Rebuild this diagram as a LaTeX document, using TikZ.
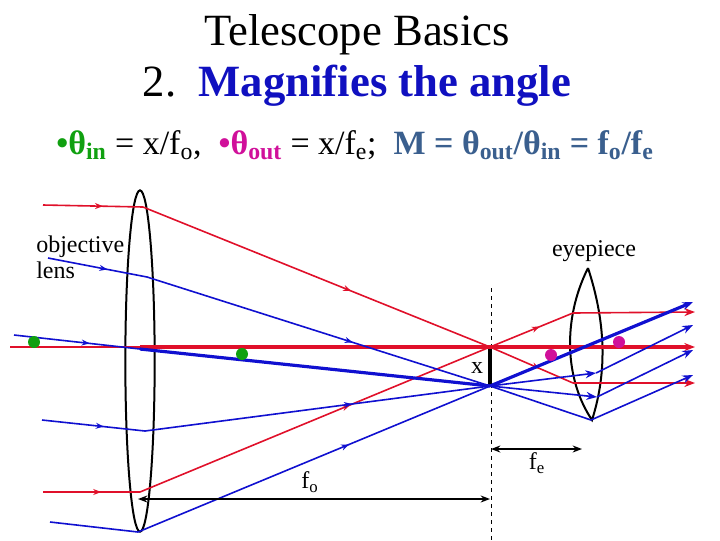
\documentclass[tikz,border=0pt]{standalone}
\usepackage{fontspec}
\setmainfont{Liberation Serif}
\usetikzlibrary{arrows.meta,decorations.markings,shapes.geometric}
\definecolor{rr}{HTML}{E0102A}
\definecolor{bb}{HTML}{1010D0}
\definecolor{gg}{HTML}{10A010}
\definecolor{mm}{HTML}{D0109A}
\definecolor{sb}{HTML}{3A5F8E}
\definecolor{tb}{HTML}{1010C0}
\begin{document}
\begin{tikzpicture}[x=0.75pt,y=-0.75pt,
  ray/.style={line width=1.2pt},
  thick ray/.style={line width=2.4pt},
  mid/.style={postaction={decorate},decoration={markings,mark=at position 0.6 with {\arrow{Stealth[length=6pt]}}}},
  endarr/.style={-{Stealth[length=8pt]}},
  lab/.style={font=\fontsize{18}{19}\selectfont, inner sep=0pt},
  dot/.style={circle,inner sep=0pt,minimum size=9pt}]
\useasboundingbox (0,0) rectangle (720,540);
% texts
\node[inner sep=0pt] (t1) at (357,35) {\fontsize{33.5}{34}\selectfont Telescope Basics};
\node[inner sep=0pt] (t2) at (357,86) {\fontsize{33.5}{34}\selectfont 2.\ \ \textcolor{tb}{\textbf{Magnifies the angle}}};
\node[inner sep=0pt] (t3) at (355,145) {\fontsize{25.5}{26}\selectfont
  \textcolor{gg}{\textbf{•θ\textsubscript{in}}} = x/f\textsubscript{o},\ \ \textcolor{mm}{\textbf{•θ\textsubscript{out}}} = x/f\textsubscript{e};\ \ \textcolor{sb}{\textbf{M = θ\textsubscript{out}/θ\textsubscript{in} = f\textsubscript{o}/f\textsubscript{e}}}};
\node[lab,align=left,anchor=north west] (ol) at (36,236) {objective\\lens};
\node[lab] (ep) at (594,251) {eyepiece};
% lenses
\node[draw,ellipse,line width=1.5pt,minimum width=22pt,minimum height=256pt,inner sep=0pt] (obj) at (140,361) {};
\coordinate (et) at (588,268); \coordinate (eb) at (592,420);
\draw[line width=1.5pt] (et) .. controls (562,320) and (565,380) .. (eb) .. controls (608,370) and (605,320) .. (et);
% focal plane
\coordinate (fr) at (490,347); \coordinate (fb) at (490,386);
\draw[dashed] (491,288) -- (491,540);
\draw[line width=2.5pt] (fr) -- (fb);
\node[lab] (xl) at (477,368) {x};
% red rays
\coordinate (r1a) at (43,205); \coordinate (r1b) at (143,207);
\coordinate (r3a) at (43,492); \coordinate (r3b) at (140,492);
\coordinate (e1) at (573,313); \coordinate (e3) at (573,383);
\draw[rr,ray,mid] (r1a) -- (r1b);
\draw[rr,ray,mid] (r1b) -- (fr);
\draw[rr,ray,mid] (fr) -- (e3);
\draw[rr,ray,endarr] (e3) -- (695,383);
\draw[rr,ray,mid] (r3a) -- (r3b);
\draw[rr,ray,mid] (r3b) -- (fr);
\draw[rr,ray,mid] (fr) -- (e1);
\draw[rr,ray,endarr] (e1) -- (695,312);
\draw[rr,ray] (10,347) -- (140,347);
\draw[rr,thick ray,endarr] (140,347) -- (695,347);
% blue rays
\coordinate (b1a) at (48,258); \coordinate (b1b) at (147,277);
\coordinate (b2a) at (14,335); \coordinate (b2b) at (140,349);
\coordinate (b3a) at (42,420); \coordinate (b3b) at (145,431);
\coordinate (b4a) at (50,522); \coordinate (b4b) at (138,532);
\coordinate (g1) at (596,373); \coordinate (g2) at (597,397); \coordinate (g3) at (591,420);
\draw[bb,ray,mid] (b1a) -- (b1b);
\draw[bb,ray,mid] (b1b) -- (fb);
\draw[bb,ray,mid] (b2a) -- (b2b);
\draw[bb,thick ray] (b2b) -- (fb);
\draw[bb,ray,mid] (b3a) -- (b3b);
\draw[bb,ray,mid] (b3b) -- (fb);
\draw[bb,ray] (b4a) -- (b4b);
\draw[bb,ray,mid] (b4b) -- (fb);
\draw[bb,thick ray,endarr] (fb) -- (693,302);
\draw[bb,ray,endarr] (fb) -- (g1);
\draw[bb,ray,endarr] (fb) -- (g2);
\draw[bb,ray] (fb) -- (g3);
\draw[bb,ray,endarr] (g1) -- (693,325);
\draw[bb,ray,endarr] (g2) -- (693,350);
\draw[bb,ray,endarr] (g3) -- (693,375);
% dots
\node[dot,fill=gg] (d1) at (34,342) {};
\node[dot,fill=gg] (d2) at (242,354) {};
\node[dot,fill=mm] (d3) at (551,355) {};
\node[dot,fill=mm] (d4) at (619,342) {};
% dimensions
\coordinate (fo1) at (138,499); \coordinate (fo2) at (490,499);
\draw[line width=1.2pt,{Stealth[length=7pt]}-{Stealth[length=7pt]}] (fo1) -- (fo2);
\node[lab] (fol) at (310,482) {f\textsubscript{o}};
\coordinate (fe1) at (491,449); \coordinate (fe2) at (582,449);
\draw[line width=1.5pt,{Stealth[length=7pt]}-{Stealth[length=7pt]}] (fe1) -- (fe2);
\node[lab] (fel) at (537,463) {f\textsubscript{e}};
\end{tikzpicture}
\end{document}
